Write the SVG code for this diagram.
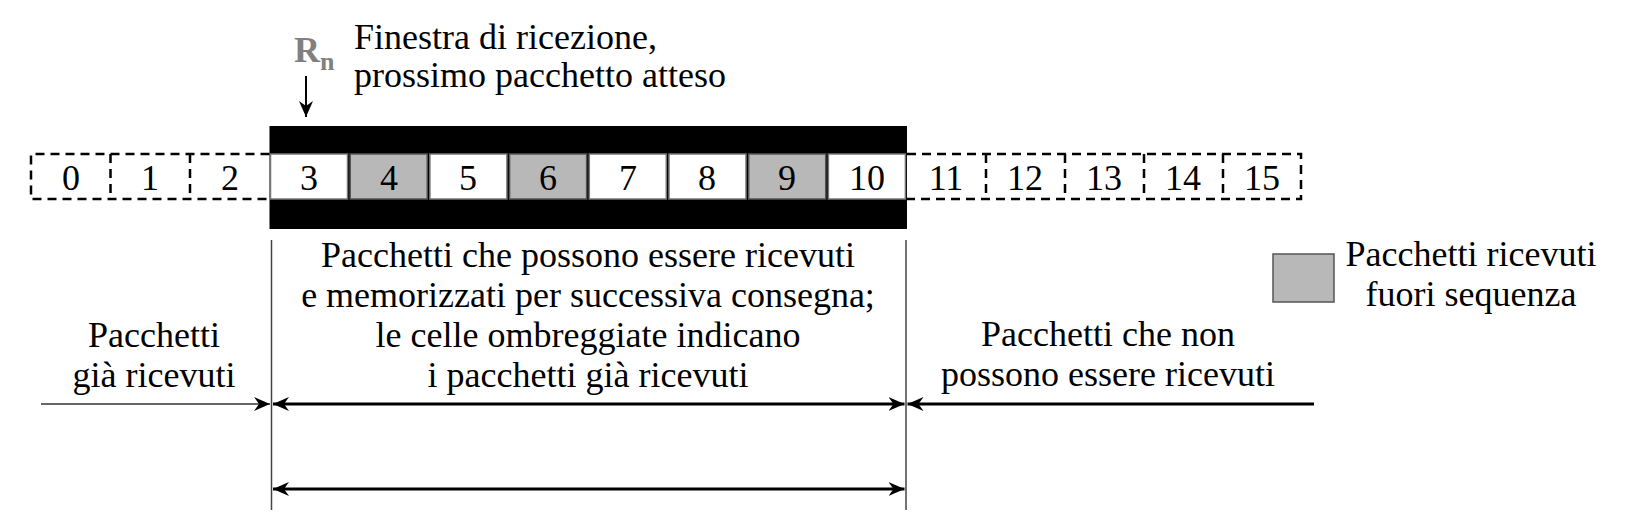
<svg xmlns="http://www.w3.org/2000/svg" width="1625" height="527" viewBox="0 0 1625 527">
<style>
text{font-family:"Liberation Serif","Times New Roman",serif;font-size:36px;fill:#000}
.c{text-anchor:middle}
.w{fill:#fff;stroke:#777;stroke-width:1.5}
.g{fill:#b8b8b8;stroke:#555;stroke-width:1.5}
.d{fill:none;stroke:#000;stroke-width:2.5;stroke-dasharray:9 6}
.v{stroke:#444;stroke-width:1.5}
.a{stroke:#000;stroke-width:3;fill:none}
</style>
<defs>
<marker id="ah" viewBox="0 0 16 14" refX="16" refY="7" markerWidth="16" markerHeight="14" markerUnits="userSpaceOnUse" orient="auto-start-reverse">
<path d="M0,0 L16,7 L0,14 L5,7 z" fill="#000"/>
</marker>
</defs>
<g id="rn">
<text x="294" y="62" style="fill:#808080;font-weight:bold">R<tspan dy="8" style="font-size:26px">n</tspan></text>
</g>
<g id="title">
<text x="354" y="49">Finestra di ricezione,</text>
<text x="354" y="87">prossimo pacchetto atteso</text>
</g>
<g id="window">
<rect x="269.5" y="126" width="637.5" height="103" fill="#000"/>
<rect x="270.5" y="154" width="77" height="45" class="w"/>
<rect x="350.2" y="154" width="77" height="45" class="g"/>
<rect x="429.9" y="154" width="77" height="45" class="w"/>
<rect x="509.6" y="154" width="77" height="45" class="g"/>
<rect x="589.3" y="154" width="77" height="45" class="w"/>
<rect x="669" y="154" width="77" height="45" class="w"/>
<rect x="748.7" y="154" width="77" height="45" class="g"/>
<rect x="828.4" y="154" width="77" height="45" class="w"/>
</g>
<g id="past">
<path class="d" d="M269.5,154 H31 V199 H269.5"/>
<path class="d" d="M110.5,154 V199 M190,154 V199"/>
</g>
<g id="future">
<path class="d" d="M907,154 H1301 V199 H907"/>
<path class="d" d="M986,154 V199 M1065,154 V199 M1144,154 V199 M1223,154 V199"/>
</g>
<g id="numbers">
<text class="c" x="71" y="190">0</text>
<text class="c" x="150" y="190">1</text>
<text class="c" x="230" y="190">2</text>
<text class="c" x="309" y="190">3</text>
<text class="c" x="389" y="190">4</text>
<text class="c" x="468" y="190">5</text>
<text class="c" x="548" y="190">6</text>
<text class="c" x="628" y="190">7</text>
<text class="c" x="707" y="190">8</text>
<text class="c" x="787" y="190">9</text>
<text class="c" x="867" y="190">10</text>
<text class="c" x="946" y="190">11</text>
<text class="c" x="1025" y="190">12</text>
<text class="c" x="1104" y="190">13</text>
<text class="c" x="1183" y="190">14</text>
<text class="c" x="1262" y="190">15</text>
</g>
<g id="label-middle">
<text class="c" x="588" y="267">Pacchetti che possono essere ricevuti</text>
<text class="c" x="588" y="307">e memorizzati per successiva consegna;</text>
<text class="c" x="588" y="347">le celle ombreggiate indicano</text>
<text class="c" x="588" y="387">i pacchetti già ricevuti</text>
</g>
<g id="label-left">
<text class="c" x="154" y="347">Pacchetti</text>
<text class="c" x="154" y="387">già ricevuti</text>
</g>
<g id="label-right">
<text class="c" x="1108" y="346">Pacchetti che non</text>
<text class="c" x="1108" y="386">possono essere ricevuti</text>
</g>
<g id="legend">
<rect x="1273" y="254" width="61" height="48" class="g"/>
<text class="c" x="1471" y="266">Pacchetti ricevuti</text>
<text class="c" x="1471" y="306">fuori sequenza</text>
</g>
<g id="connectors">
<line class="v" x1="271.5" y1="240" x2="271.5" y2="510"/>
<line class="v" x1="906" y1="240" x2="906" y2="510"/>
<line x1="306" y1="76" x2="306" y2="117" stroke="#000" stroke-width="2" marker-end="url(#ah)"/>
<line x1="41" y1="404" x2="270" y2="404" stroke="#666" stroke-width="2" marker-end="url(#ah)"/>
<line class="a" x1="273" y1="404" x2="904.5" y2="404" marker-start="url(#ah)" marker-end="url(#ah)"/>
<line class="a" x1="1314" y1="404" x2="907.5" y2="404" marker-end="url(#ah)"/>
<line class="a" x1="273" y1="489" x2="904.5" y2="489" marker-start="url(#ah)" marker-end="url(#ah)"/>
</g>
</svg>
